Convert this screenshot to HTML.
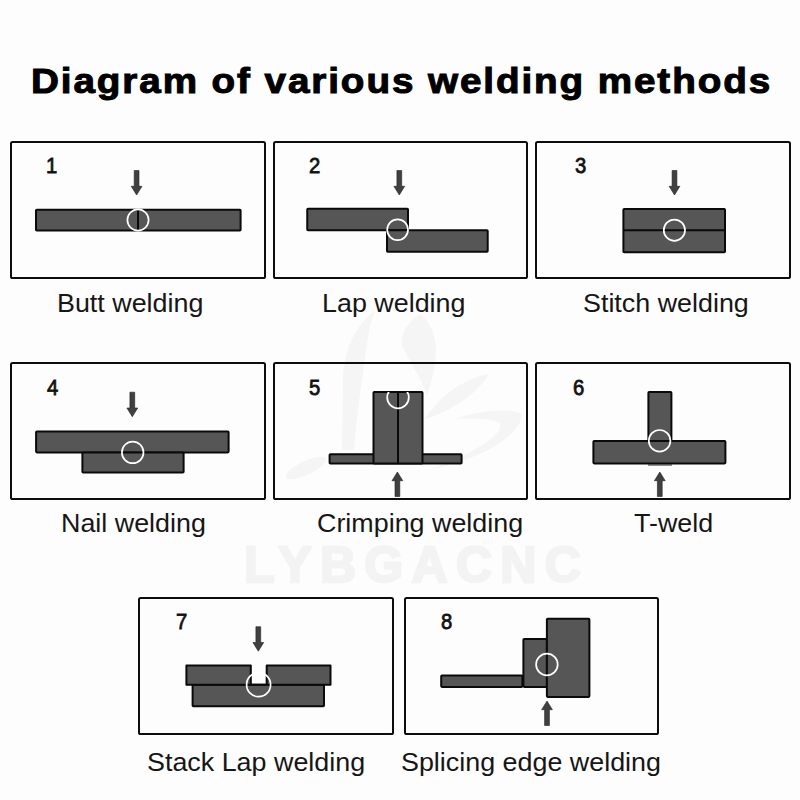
<!DOCTYPE html>
<html><head><meta charset="utf-8">
<style>
html,body{margin:0;padding:0;}
body{width:800px;height:800px;overflow:hidden;background:#fdfdfd;position:relative;font-family:"Liberation Sans",sans-serif;}
.t{position:absolute;white-space:nowrap;color:#111;line-height:1;}
.title{left:31px;top:64px;font-size:34.5px;font-weight:bold;letter-spacing:1.7px;transform:scaleX(1.12);transform-origin:0 0;color:#000;-webkit-text-stroke:1px #000;}
.lab{font-size:25.6px;transform:scaleX(1.05);transform-origin:0 0;color:#161616;}
.num{font-size:22.5px;-webkit-text-stroke:0.8px #111;transform:scaleX(0.9);transform-origin:0 0;}
.wm{position:absolute;left:244px;top:540px;font-size:50px;font-weight:bold;color:#f3f3f3;-webkit-text-stroke:2.5px #f3f3f3;letter-spacing:8.3px;white-space:nowrap;line-height:1;}
svg{position:absolute;left:0;top:0;}
</style></head>
<body>
<div class="wm">LYBGACNC</div>
<div class="t title">Diagram of various welding methods</div>
<svg width="800" height="800" viewBox="0 0 800 800">
<defs>
<path id="ad" d="M-2.4 0.5 H2.4 V16.3 H5.4 L0 25 L-5.4 16.3 H-2.4 Z"/>
<path id="au" d="M-2.4 24.5 H2.4 V8.7 H5.4 L0 0 L-5.4 8.7 H-2.4 Z"/>
<clipPath id="c5"><rect x="373.5" y="392" width="49" height="72"/></clipPath>
</defs>
<g fill="#f5f5f5">
<path d="M375 311 C355 325 344 350 343 380 L342 450 L354 450 C356 420 362 380 366 350 C368 335 371 320 375 311 Z"/>
<ellipse cx="306" cy="468" rx="22" ry="7" transform="rotate(-25 306 468)"/>
<path d="M420 314 C405 325 400 336 402 345 C408 360 420 375 427 395 C432 380 436 365 436 350 C436 335 430 322 420 314 Z"/>
<path d="M425 419 C440 395 465 378 489 374 C480 390 455 410 425 419 Z"/>
<path d="M456 419 C480 410 510 408 522 414 C520 440 470 462 428 470 C470 455 505 435 500 423 C490 418 470 418 456 419 Z"/>
</g>
<g fill="none" stroke="#0d0d0d" stroke-width="2">
<rect x="11.00" y="142.00" width="254.00" height="136.00" rx="1.6"/>
<rect x="274.00" y="142.00" width="253.00" height="136.00" rx="1.6"/>
<rect x="536.00" y="142.00" width="254.00" height="136.00" rx="1.6"/>
<rect x="11.00" y="363.00" width="254.00" height="136.00" rx="1.6"/>
<rect x="274.00" y="363.00" width="253.00" height="136.00" rx="1.6"/>
<rect x="536.00" y="363.00" width="254.00" height="136.00" rx="1.6"/>
<rect x="139.00" y="598.00" width="254.00" height="136.00" rx="1.6"/>
<rect x="405.00" y="598.00" width="253.00" height="136.00" rx="1.6"/>
</g>
<g fill="#565656" stroke="#0a0a0a" stroke-width="2.0" stroke-linejoin="round">
<rect x="36.00" y="209.75" width="204.60" height="20.85" rx="0.8"/>
<rect x="307.25" y="208.70" width="100.75" height="21.50" rx="0.8"/>
<rect x="387.00" y="230.20" width="100.70" height="21.50" rx="0.8"/>
<rect x="623.40" y="208.90" width="101.60" height="43.30" rx="0.8"/>
<rect x="36.10" y="431.40" width="192.50" height="21.00" rx="0.8"/>
<rect x="82.40" y="452.40" width="101.20" height="20.10" rx="0.8"/>
<rect x="329.60" y="454.30" width="132.00" height="9.30" rx="0.8"/>
<rect x="373.50" y="392.00" width="49.00" height="71.60" rx="0.8"/>
<rect x="648.40" y="392.00" width="23.00" height="49.00" rx="0.8"/>
<rect x="593.40" y="441.00" width="132.00" height="22.40" rx="0.8"/>
<rect x="192.60" y="684.70" width="131.40" height="21.60" rx="0.8"/>
<path d="M186.4 665.5 H250.8 V684.7 H266.7 V665.5 H330.5 V684.7 H186.4 Z"/>
<rect x="441.20" y="675.50" width="81.20" height="11.40" rx="0.8"/>
<rect x="523.40" y="639.00" width="23.50" height="47.90" rx="0.8"/>
<rect x="546.90" y="618.75" width="42.50" height="78.15" rx="0.8"/>
</g>
<g stroke="#0a0a0a" stroke-width="2">
<line x1="138" y1="210" x2="138" y2="230.6"/>
<line x1="623.4" y1="230.3" x2="725" y2="230.3"/>
<line x1="398" y1="392" x2="398" y2="463.6"/>
</g>
<line x1="648" y1="465" x2="672" y2="465" stroke="#222" stroke-width="1"/>
<g fill="none" stroke="#fff" stroke-width="1.7">
<circle cx="138" cy="220" r="10.6"/>
<circle cx="397.6" cy="229.8" r="10.4"/>
<circle cx="674.4" cy="230.2" r="10.6"/>
<circle cx="132.7" cy="452.4" r="10.8"/>
<circle cx="398" cy="397.5" r="10.8" clip-path="url(#c5)"/>
<circle cx="659.6" cy="440.8" r="10.8"/>
<circle cx="258.6" cy="684.7" r="12"/>
<circle cx="546.9" cy="664.5" r="10.8"/>
</g>
<g fill="#404040" stroke="#222" stroke-width="0.6">
<use href="#ad" x="136.6" y="170"/>
<use href="#ad" x="399.3" y="170"/>
<use href="#ad" x="674.5" y="170"/>
<use href="#ad" x="132.3" y="391.7"/>
<use href="#au" x="397.4" y="472"/>
<use href="#au" x="659.8" y="472"/>
<use href="#ad" x="258.3" y="626.2"/>
<use href="#au" x="547" y="701"/>
</g>
</svg>
<div class="t num" style="left:46px;top:155px;">1</div>
<div class="t num" style="left:309px;top:155px;">2</div>
<div class="t num" style="left:575px;top:155px;">3</div>
<div class="t num" style="left:47px;top:377px;">4</div>
<div class="t num" style="left:309px;top:377px;">5</div>
<div class="t num" style="left:573px;top:377px;">6</div>
<div class="t num" style="left:176px;top:611px;">7</div>
<div class="t num" style="left:441px;top:611px;">8</div>
<div class="t lab" style="left:57px;top:291px;">Butt welding</div>
<div class="t lab" style="left:322px;top:291px;">Lap welding</div>
<div class="t lab" style="left:583px;top:291px;">Stitch welding</div>
<div class="t lab" style="left:61px;top:511px;">Nail welding</div>
<div class="t lab" style="left:317px;top:511px;">Crimping welding</div>
<div class="t lab" style="left:634px;top:511px;">T-weld</div>
<div class="t lab" style="left:147px;top:750px;">Stack Lap welding</div>
<div class="t lab" style="left:401px;top:750px;">Splicing edge welding</div>
</body></html>
